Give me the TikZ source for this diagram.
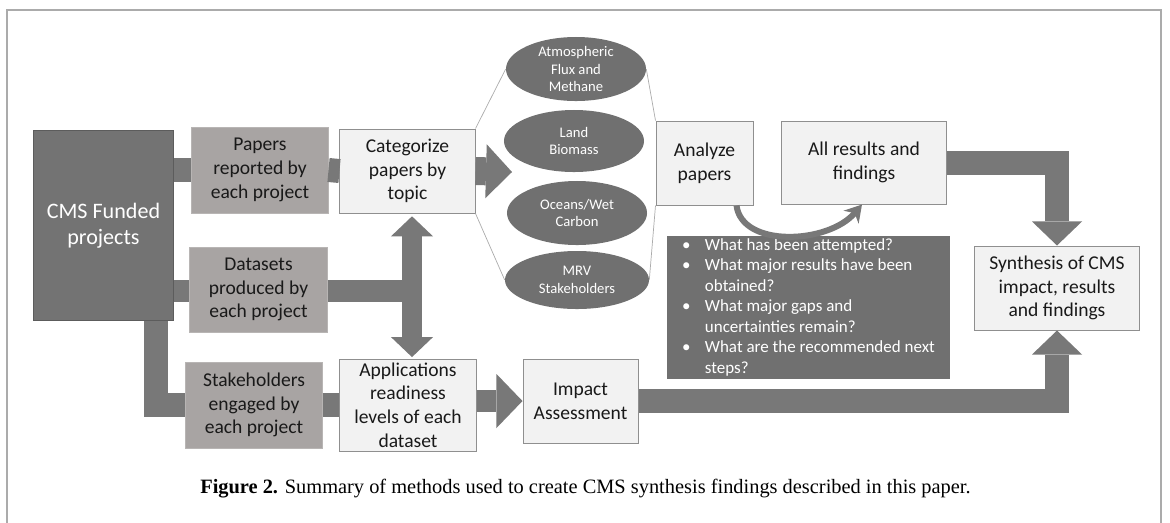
\documentclass[tikz,border=0pt]{standalone}
\usepackage{fontspec}
\setmainfont{Carlito}
\newfontfamily\capfont{Liberation Serif}
\usetikzlibrary{positioning,shapes.geometric,arrows.meta}
\definecolor{cmsfill}{HTML}{737373}
\definecolor{cmsline}{HTML}{5C5C5C}
\definecolor{srcfill}{HTML}{A8A4A3}
\definecolor{srcline}{HTML}{B8B5B4}
\definecolor{boxfill}{HTML}{F2F2F2}
\definecolor{boxline}{HTML}{8F8F8F}
\definecolor{arrowgray}{HTML}{787878}
\definecolor{topicfill}{HTML}{707070}
\definecolor{framegray}{HTML}{ABABAB}

\begin{document}
\begin{tikzpicture}[x=0.025cm, y=-0.025cm,
    box/.style = {rectangle, draw=boxline, fill=boxfill, line width=0.7pt, align=center,
                  inner sep=0pt, text=black!90, font=\fontsize{13.9}{16.8}\selectfont},
    source/.style = {box, draw=srcline, fill=srcfill},
    topic/.style = {ellipse, fill=topicfill, text=white, inner sep=0pt, align=center,
                    minimum width=3.5cm, font=\fontsize{10.4}{12.3}\selectfont},
    bracket/.style = {draw=framegray, line width=0.5pt},
    bar/.style = {draw=arrowgray, line width=0.6cm},
    bigarrow/.style = {bar, -{Triangle[length=0.6cm, width=1.25cm, line width=0pt]}},
    twoway/.style = {draw=arrowgray, line width=0.5cm,
                     {Triangle[length=0.5cm, width=1.05cm, line width=0pt]}-{Triangle[length=0.5cm, width=1.05cm, line width=0pt]}},
    swoop/.style = {draw=arrowgray, line width=0.15cm, -{Stealth[length=0.42cm, width=0.5cm, line width=0pt]}}]

    \useasboundingbox (0,0) rectangle (1170,522);
    \draw[draw=framegray, line width=1pt] (7,540) |- (1161,10) -- (1161,540);

    \node[box, fill=cmsfill, draw=cmsline, text=white, minimum width=3.475cm, minimum height=4.725cm,
          font=\fontsize{15.7}{18.7}\selectfont] (cms) at (103.5,225.5) {CMS Funded\\projects};
    \node[source, minimum width=3.4cm, minimum height=2.15cm] (papers) at (260,170) {Papers\\reported by\\each project};
    \node[source, minimum width=3.425cm, minimum height=2.125cm] (datasets) at (258.5,289.5) {Datasets\\produced by\\each project};
    \node[source, minimum width=3.4cm, minimum height=2.15cm] (stake) at (254,405) {Stakeholders\\engaged by\\each project};
    \node[box, minimum width=3.375cm, minimum height=2.1cm] (categ) at (407.5,171) {Categorize\\papers by\\topic};
    \node[box, minimum width=3.4cm, minimum height=2.3cm] (appl) at (408,405) {Applications\\readiness\\levels of each\\dataset};
    \node[box, minimum width=2.875cm, minimum height=2.1cm] (impact) at (580.5,401) {Impact\\Assessment};

    \node[topic, minimum height=1.6cm] (atm) at (576,69) {Atmospheric\\Flux and\\Methane};
    \node[topic, minimum height=1.55cm] (land) at (574,141) {Land\\Biomass};
    \node[topic, minimum height=1.6cm] (ocean) at (577,213) {Oceans/Wet\\Carbon};
    \node[topic, minimum width=3.6cm, minimum height=1.45cm] (mrv) at (577,280) {MRV\\Stakeholders};

    \node[box, minimum width=2.425cm, minimum height=2.1cm] (analyze) at (704.5,163) {Analyze\\papers};
    \node[box, minimum width=4.1cm, minimum height=2.075cm] (allres) at (864,162.5) {All results and\\findings};
    \node[box, minimum width=4.1cm, minimum height=2.1cm] (synth) at (1057,288) {Synthesis of CMS\\impact, results\\and findings};
    \node[rectangle, fill=topicfill, text=white, minimum width=7.075cm, minimum height=3.575cm, inner sep=0pt,
          font=\fontsize{12.1}{14.6}\selectfont] (questions) at (808.5,307.5) {%
        \begin{tabular}{@{}p{0.57cm}@{}l@{}}
            \textbullet & What has been attempted?\\
            \textbullet & What major results have been\\
                        & obtained?\\
            \textbullet & What major gaps and\\
                        & uncertainties remain?\\
            \textbullet & What are the recommended next\\
                        & steps?
        \end{tabular}};

    \coordinate (topics) at (512,172);
    \coordinate (hub) at (412,291);

    \draw[bracket] (categ.north east) -- (atm.west);
    \draw[bracket] (categ.south east) -- (mrv.west);
    \draw[bracket] (atm.east) -- (analyze.north west);
    \draw[bracket] (mrv.east) -- (analyze.south west);

    \draw[bar] (cms.east |- papers.west) -- (papers.west);
    \draw[bar] (papers.east) -- (categ.west);
    \draw[bar, line width=0.55cm] (cms.east |- hub) -- (datasets.west |- hub);
    \draw[bar, line width=0.55cm, shorten >=-0.25cm] (datasets.east |- hub) -- (hub);
    \draw[twoway, shorten <=2pt, shorten >=1pt] (hub |- categ.south) -- (hub |- appl.north);
    \draw[bar] ([xshift=1.3cm]cms.south) |- (stake.west);
    \draw[bar] (stake.east) -- (appl.west |- stake.east);
    \draw[bigarrow, line width=0.7cm, -{Triangle[length=0.65cm, width=1.35cm, line width=0pt]}] (categ.east) -- (topics);
    \draw[bigarrow, line width=0.55cm, -{Triangle[length=0.65cm, width=1.35cm, line width=0pt]}] (appl.east |- impact.west) -- (impact.west);
    \draw[bigarrow] (impact.east) -| (synth.south);
    \draw[bigarrow] (allres.east) -| (synth.north);
    \draw[swoop] ([xshift=0.8cm]analyze.south) .. controls (742,248) and (828,244) .. ([xshift=-0.05cm]allres.south);

    \node[font=\capfont\fontsize{14.5}{17}\selectfont] (caption) at (585.5,489)
        {\textbf{Figure 2.} Summary of methods used to create CMS synthesis findings described in this paper.};
\end{tikzpicture}
\end{document}
